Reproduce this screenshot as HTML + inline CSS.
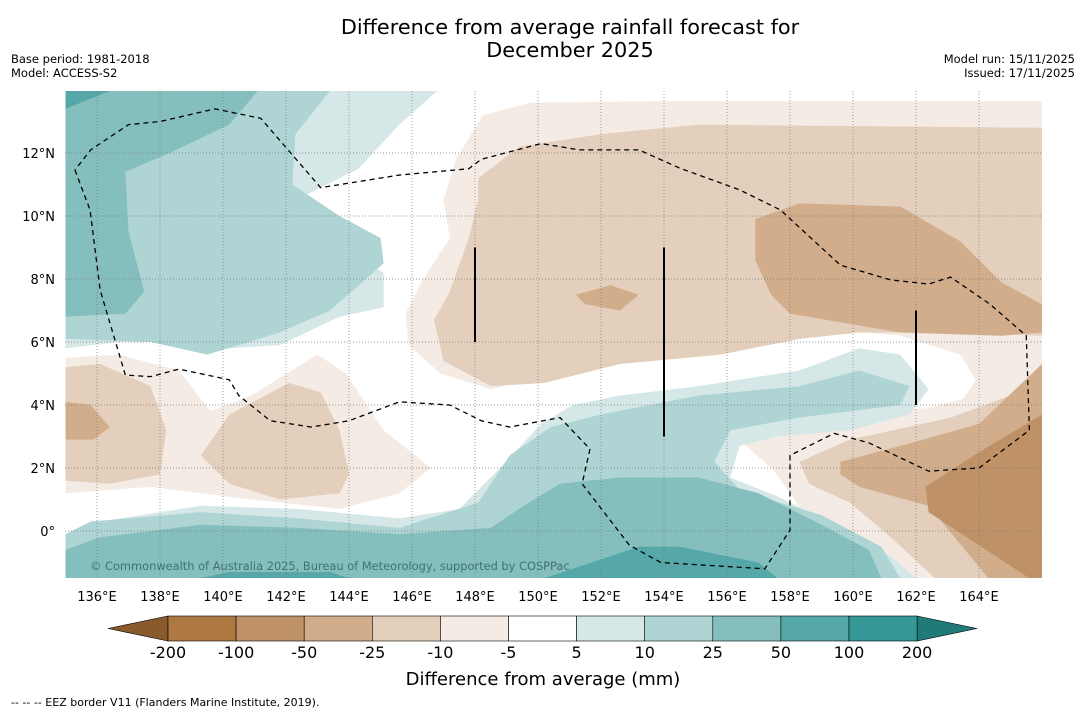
<!DOCTYPE html>
<html><head><meta charset="utf-8"><style>
body{margin:0;background:#fff;width:1085px;height:713px;overflow:hidden;font-family:"DejaVu Sans","Liberation Sans",sans-serif}
svg{font-family:"DejaVu Sans","Liberation Sans",sans-serif}
</style></head><body>
<svg id="s" width="1085" height="713" xmlns="http://www.w3.org/2000/svg">
<text x="570" y="34" font-size="20.8" text-anchor="middle">Difference from average rainfall forecast for</text>
<text x="570" y="57" font-size="20.8" text-anchor="middle">December 2025</text>
<text x="11" y="63" font-size="11.5">Base period: 1981-2018</text>
<text x="11" y="77" font-size="11.5">Model: ACCESS-S2</text>
<text x="1075" y="63" font-size="11.5" text-anchor="end">Model run: 15/11/2025</text>
<text x="1075" y="77" font-size="11.5" text-anchor="end">Issued: 17/11/2025</text>
<defs><clipPath id="mc"><rect x="65" y="91" width="977" height="487"/></clipPath></defs>
<g id="map" clip-path="url(#mc)"></g>
<g id="axes"></g>
<g id="cbar"></g>
<text x="543" y="685" font-size="18" text-anchor="middle">Difference from average (mm)</text>
<text x="11" y="706" font-size="11">--  --  -- EEZ border V11 (Flanders Marine Institute, 2019).</text>
</svg>
<script>
const lonTicks=[136,138,140,142,144,146,148,150,152,154,156,158,160,162,164];
const latTicks=[0,2,4,6,8,10,12];
const levels=["-200","-100","-50","-25","-10","-5","5","10","25","50","100","200"];
const levelColors=["#ad7842","#bf9167","#d1ad8c","#e3cfbb","#f4ebe5","#ffffff","#d5e8e7","#aed5d4","#84bfbe","#55a8a7","#339896"];
const underColor="#8a5a2c", overColor="#1f7a78";
const regions=[
["#f4ebe5",[[148.25,13.2],[149.75,13.6],[153.9,13.65],[166,13.65],[166,-1.5],[160.5,-1.5],[159.9,-0.6],[158.6,0.35],[157.5,1.9],[156.4,2.9],[158.3,3.6],[162.4,3.9],[163.5,4.2],[163.9,4.8],[163.4,5.6],[161.5,6.2],[158.3,6.5],[155.1,5.9],[152.3,5.5],[150.1,4.9],[148.5,4.5],[146.9,5.0],[145.9,5.9],[145.8,6.9],[146.3,7.9],[147.2,9.3],[147,10.5],[147.4,11.8]]],
["#f4ebe5",[[135,5.5],[136.7,5.6],[138.6,5.1],[139.6,3.8],[140.9,4.3],[143,5.6],[143.9,5.0],[145.1,3.2],[146.6,2.0],[145.6,1.2],[143.7,0.7],[140.9,1.0],[137.7,1.4],[135,1.2]]],
["#e3cfbb",[[148.1,11.2],[149.4,12.2],[152,12.6],[155.1,12.9],[166,12.8],[166,6.2],[163.4,6.3],[160.2,6.3],[158.3,6.1],[155.8,5.6],[152.6,5.3],[150.2,4.7],[148.5,4.6],[147.0,5.4],[146.7,6.7],[147.2,7.6],[147.8,9.3],[148.1,10.5]]],
["#e3cfbb",[[158.3,2.2],[159.9,2.9],[163.1,3.6],[165,4.3],[166,5.3],[166,-1.5],[162.6,-1.5],[161.2,-0.2],[159.9,0.9],[158.6,1.5]]],
["#e3cfbb",[[135,5.2],[136.1,5.3],[137.7,4.6],[138.2,3.2],[138,1.8],[136.4,1.5],[135,1.6]]],
["#e3cfbb",[[139.3,2.4],[140.2,3.7],[142.1,4.7],[143.1,4.4],[143.7,3.2],[144,1.8],[143.7,1.2],[141.8,1.0],[140.2,1.5]]],
["#d1ad8c",[[156.9,9.9],[158.3,10.4],[161.5,10.3],[163.4,9.2],[164.7,7.9],[166,7.2],[166,6.3],[164.7,6.2],[161.5,6.3],[158,6.9],[157.4,7.5],[156.9,8.6]]],
["#d1ad8c",[[151.2,7.5],[152.3,7.8],[153.2,7.5],[152.6,7.0],[151.5,7.2]]],
["#d1ad8c",[[159.6,2.2],[161.5,2.7],[164,3.4],[166,5.3],[166,-1.5],[164.3,-1.5],[162.4,0.8],[160.2,1.4],[159.6,1.8]]],
["#d1ad8c",[[135,4.1],[135.8,4.0],[136.4,3.3],[135.9,2.9],[135,2.9]]],
["#bf9167",[[162.3,1.4],[164,2.5],[166,3.7],[166,-1.5],[165.6,-1.5],[162.4,0.6]]],
["#d5e8e7",[[135,13.97],[146.8,13.97],[145.6,12.9],[144.3,11.5],[142.3,10.5],[143.7,9.0],[145.1,8.2],[145.1,7.1],[143.7,6.8],[141.8,5.9],[140.2,5.8],[138.6,6.0],[136.7,6.0],[135,5.8]]],
["#aed5d4",[[135,13.97],[143.4,13.97],[142.3,12.6],[142.2,11.0],[143.7,10.0],[145,9.3],[145.1,8.5],[143.4,7.0],[141.8,6.3],[139.5,5.6],[137.7,6.0],[135,6.1]]],
["#84bfbe",[[135,13.97],[141.1,13.97],[140.2,12.9],[138.3,12.0],[136.9,11.4],[137,9.5],[137.5,7.6],[136.9,6.9],[135,6.8]]],
["#55a8a7",[[135,13.97],[136.4,13.97],[135,13.4]]],
["#d5e8e7",[[135,-0.6],[135.2,-0.2],[136.1,0.3],[139.3,0.8],[142.4,0.7],[145.6,0.4],[147.5,0.7],[148.8,2.0],[150.1,3.4],[151.1,4.0],[152.6,4.3],[155.1,4.6],[158.3,5.1],[160.2,5.8],[161.5,5.6],[162.4,4.5],[161.8,3.7],[159.9,3.2],[157.6,3.0],[156.4,2.7],[156.1,1.7],[157.6,1.1],[159.9,0.0],[161.2,-0.8],[162,-1.5],[135,-1.5]]],
["#aed5d4",[[135,-0.1],[135.8,0.3],[139.3,0.6],[142.4,0.4],[145.6,0.1],[148.1,0.9],[149.1,2.4],[150.4,3.3],[152,3.7],[155.1,4.3],[158.3,4.6],[160.2,5.1],[161.8,4.6],[161.5,4.0],[158.3,3.6],[156.1,3.2],[155.6,2.2],[156.4,1.3],[159,0.5],[160.9,-0.5],[161.5,-1.5],[135,-1.5]]],
["#84bfbe",[[135,-0.6],[136.1,-0.2],[139.3,0.2],[142.4,0.1],[145.6,-0.1],[148.5,0.1],[149.7,0.9],[150.7,1.5],[152.6,1.7],[155.1,1.7],[157,1.2],[159,0.2],[160.5,-0.6],[160.9,-1.5],[135,-1.5]]],
["#55a8a7",[[150.2,-1.5],[152,-0.9],[153.2,-0.5],[154.5,-0.5],[157,-1.0],[157.6,-1.5]]],
["#55a8a7",[[139.3,-1.5],[140.2,-1.3],[143.4,-1.3],[144,-1.5]]]
];
const eez=[[135.3,11.46],[135.78,10.19],[136.1,7.65],[136.9,4.95],[137.7,4.9],[138.6,5.14],[140.2,4.8],[140.5,4.3],[141.5,3.5],[142.8,3.3],[144,3.5],[145.6,4.1],[147.2,4.0],[148.2,3.5],[149.1,3.3],[150.7,3.6],[151.65,2.6],[151.4,1.5],[152.9,-0.45],[153.9,-1.0],[157.2,-1.2],[158,0.03],[158,2.4],[159.4,3.1],[160.5,2.8],[162.4,1.9],[164,2.0],[165.6,3.2],[165.5,6.2],[164.35,7.2],[163.1,8.06],[162.4,7.84],[161.2,7.97],[159.6,8.44],[157.7,10.19],[156.4,10.83],[154.5,11.52],[153.2,12.1],[151.3,12.1],[150.1,12.3],[148.2,11.8],[147.8,11.5],[145.6,11.3],[143.1,10.9],[141.2,13.1],[139.75,13.4],[138,13.0],[137,12.9],[135.8,12.1],[135.3,11.46]];
const borderLines=[[148,6,9],[154,3,9],[162,4,7]];
const X=lon=>97+(lon-136)*31.5, Y=lat=>531-lat*31.5;
const NS="http://www.w3.org/2000/svg";
function mk(t,a,p){const e=document.createElementNS(NS,t);for(const k in a)e.setAttribute(k,a[k]);p.appendChild(e);return e;}
const map=document.getElementById('map'), ax=document.getElementById('axes'), cb=document.getElementById('cbar');
mk('rect',{x:65,y:91,width:977,height:487,fill:'#fff'},map);
regions.forEach((r,i)=>{const p=mk('polygon',{points:r[1].map(q=>X(q[0])+','+Y(q[1])).join(' '),fill:r[0]},map);

});
lonTicks.forEach(l=>{const ln=mk('line',{x1:X(l),x2:X(l),y1:91,y2:578,stroke:'#777','stroke-width':0.7,'stroke-dasharray':'1,2'},map);


const t=mk('text',{x:X(l),y:601,'font-size':13,'text-anchor':'middle'},ax);t.textContent=l+'°E';

});
latTicks.forEach(l=>{const ln=mk('line',{x1:65,x2:1042,y1:Y(l),y2:Y(l),stroke:'#777','stroke-width':0.7,'stroke-dasharray':'1,2'},map);


const t=mk('text',{x:55,y:Y(l)+5,'font-size':13,'text-anchor':'end'},ax);t.textContent=l===0?'0°':l+'°N';

});
const ez=mk('polyline',{points:eez.map(q=>X(q[0])+','+Y(q[1])).join(' '),fill:'none',stroke:'#000','stroke-width':1.3,'stroke-dasharray':'5,4'},map);


borderLines.forEach(b=>{const l=mk('line',{x1:X(b[0]),x2:X(b[0]),y1:Y(b[1]),y2:Y(b[2]),stroke:'#000','stroke-width':2},map);

});
const cp=mk('text',{x:90,y:570,'font-size':11.4,fill:'#3f7270'},map);cp.textContent='© Commonwealth of Australia 2025, Bureau of Meteorology, supported by COSPPac';


const bx0=168,bw=68.1,by=616,bh=25;
const lt=mk('polygon',{points:`108,${by+bh/2} ${bx0},${by} ${bx0},${by+bh}`,fill:underColor,stroke:'#000','stroke-width':0.6},cb);


const xe=bx0+bw*levelColors.length;
const rt=mk('polygon',{points:`${xe},${by} ${xe+60},${by+bh/2} ${xe},${by+bh}`,fill:overColor,stroke:'#000','stroke-width':0.6},cb);


levelColors.forEach((c,i)=>{const r=mk('rect',{x:bx0+i*bw,y:by,width:bw,height:bh,fill:c,stroke:'#000','stroke-width':0.6},cb);

});
levels.forEach((v,i)=>{const t=mk('text',{x:bx0+i*bw,y:658,'font-size':16,'text-anchor':'middle'},cb);t.textContent=v;

});
</script>
</body></html>
